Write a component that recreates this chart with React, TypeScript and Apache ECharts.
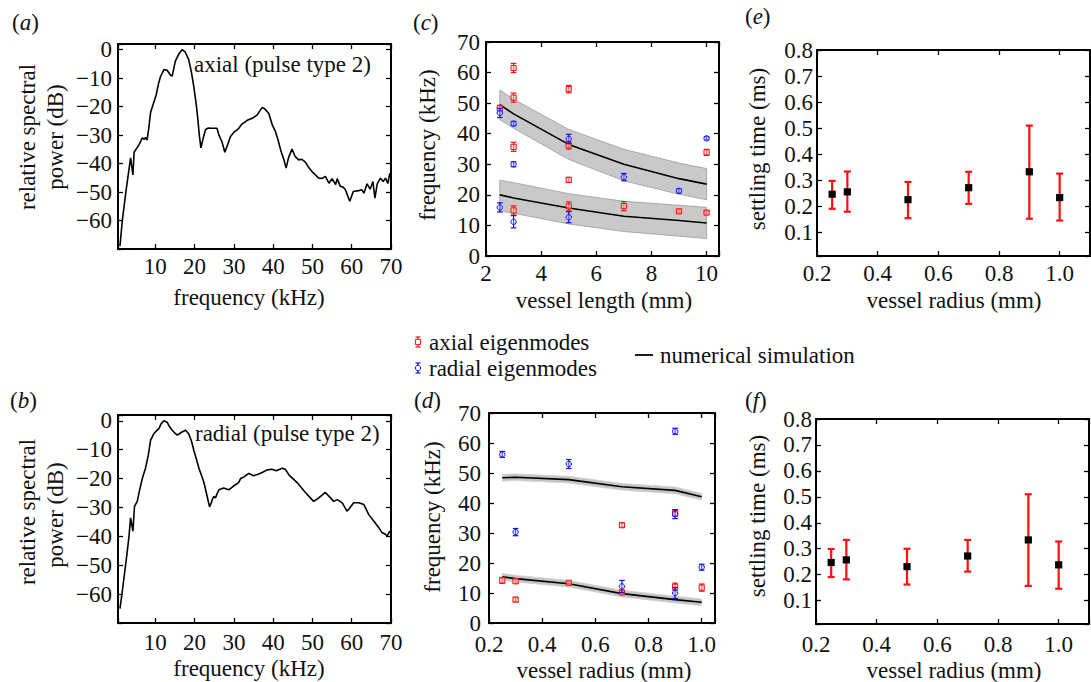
import { useEffect, useRef } from 'react';
import * as echarts from 'echarts';

const FONT = 'Liberation Serif, Times New Roman, serif';
const FS = 23;
const INK = '#111';

// (a) axial spectrum: [frequency kHz, relative power dB]
const axialSpectrum: number[][] = [
  [1.0, -69], [1.6, -60], [2.5, -50], [3.7, -38], [4.3, -44], [4.6, -36], [5.8, -33.5], [6.7, -31], [7.2, -31.5],
  [7.5, -30.8], [7.9, -31.8], [8.3, -28], [8.8, -22], [9.5, -19], [10.2, -16], [10.8, -12], [11.3, -9.5], [12.2, -7],
  [13, -7.2], [13.8, -8.8], [14.3, -9.3], [15.1, -4], [16, -1.5], [16.8, 0], [17.6, -0.8], [18.5, -3.5], [19.2, -8],
  [19.8, -13], [20.4, -19], [20.8, -24], [21.2, -30], [21.6, -34.5], [22.2, -31], [22.8, -28], [23.5, -27.5], [24.5, -27.6],
  [25.7, -27.6], [26.2, -30], [27, -32.5], [27.7, -36], [28.5, -33], [29.1, -30.6], [30, -29], [31.2, -27.7], [32, -26.2],
  [33.4, -24.8], [34.8, -24], [35.9, -23], [36.6, -21.5], [37.2, -20.3], [37.8, -20.7], [38.9, -22.4], [39.8, -26.5],
  [40.6, -28.8], [41.3, -32], [41.9, -35.2], [42.7, -38.5], [43.3, -41.6], [43.9, -38], [44.8, -34.9], [45.6, -37.5],
  [46.5, -38.7], [47.3, -38.5], [48.2, -39.5], [49.1, -41.5], [49.9, -42.8], [50.8, -44], [51.6, -45.1], [52.5, -45.2],
  [53.3, -44.5], [54.2, -46.9], [55, -45.3], [55.9, -47.4], [56.3, -45.3], [57.1, -48], [57.8, -48.2], [58.4, -49.2],
  [59.5, -53.2], [60.4, -49.8], [61.1, -49.6], [61.8, -49.5], [62.6, -49.2], [63.1, -50.4], [63.9, -47.1], [64.7, -49],
  [65.4, -46.3], [65.9, -52.1], [66.5, -47.1], [67.3, -45.1], [68, -46.3], [68.6, -45.1], [69.2, -47], [69.7, -43.4],
];

// (b) radial spectrum
const radialSpectrum: number[][] = [
  [1.0, -65], [1.5, -60], [2, -54.6], [2.7, -47], [3.3, -40], [3.7, -33.6], [4.3, -38.2], [4.7, -29.6], [5.4, -27.9],
  [6, -24], [6.7, -19.9], [7.5, -16.4], [8.2, -12], [8.8, -6.7], [9.6, -4.5], [10.3, -3.5], [10.9, -2.7], [11.5, -1],
  [12.2, 0], [13, -0.5], [13.6, -2], [14.3, -3.3], [15, -4.3], [15.6, -5], [16.2, -4.4], [16.8, -3.9], [17.7, -3.3],
  [18.5, -4.5], [19.2, -7], [19.8, -10.2], [20.5, -13.5], [21.1, -16.4], [21.7, -18.7], [22.3, -21], [22.8, -23.8],
  [23.2, -26.2], [23.8, -29.8], [24.2, -28.5], [24.5, -27.3], [24.9, -26.2], [25.3, -26.7], [25.8, -25], [26.2, -23.9],
  [27.4, -23.3], [28.7, -23.9], [30, -22.5], [31.2, -21.4], [31.7, -20], [32.5, -19.5], [33.8, -18.2], [35, -19],
  [36.2, -18.5], [37.2, -17.9], [38.5, -17], [39.7, -16.8], [40.8, -17.3], [42.3, -16.4], [43.1, -16.8], [44, -18.7],
  [46.1, -21.4], [48.2, -24.8], [50.3, -27.9], [51.6, -26.7], [53.3, -24.8], [54.6, -26.7], [55.4, -27.9], [56.3, -27.3],
  [57.6, -28.4], [58.8, -31.3], [59.5, -30.2], [60.5, -28.4], [61.8, -28.4], [63.1, -29], [64.3, -32.4], [65.6, -34.7],
  [66.9, -37], [67.7, -38.7], [68.6, -39.3], [69, -39.9], [69.7, -38.2],
];

// (c) vessel length sweep
const lengthMm = [2.5, 3, 5, 7, 9, 10];
const simLenHigh = [49.5, 46.5, 36.5, 30, 25.3, 23.5];
const simLenHighLo = [44.6, 41.8, 31.6, 24.6, 20.2, 18.4];
const simLenHighHi = [54.3, 51.3, 41.4, 34.9, 30.4, 28.6];
const simLenLow = [20, 19, 15.7, 13, 11.6, 10.8];
const simLenLowLo = [14.7, 14, 10.5, 8, 6.5, 5.7];
const simLenLowHi = [24.8, 24, 20.4, 17.9, 16.6, 15.9];
// [length, frequency, error]
const lenAxial: number[][] = [
  [2.5, 48.3, 1.0], [3, 61.5, 1.5], [3, 51.8, 1.5], [3, 35.7, 1.5], [3, 14.9, 1.5], [5, 54.6, 1.2], [5, 36.2, 1.2],
  [5, 24.9, 0.8], [5, 16.2, 1.5], [7, 16.3, 1.5], [9, 14.6, 0.5], [10, 33.9, 1.0], [10, 14.2, 0.5],
];
const lenRadial: number[][] = [
  [2.5, 46.8, 1.5], [2.5, 15.9, 1.5], [3, 43.3, 0.7], [3, 30, 0.8], [3, 11.2, 2], [5, 38.3, 1.5], [5, 12.7, 1.8],
  [7, 25.8, 1.2], [9, 21.3, 0.7], [10, 38.5, 0.5],
];

// (d) vessel radius sweep
const radiusMm = [0.25, 0.3, 0.5, 0.7, 0.9, 1.0];
const simRadHigh = [48.4, 48.6, 47.8, 45.4, 44.2, 42.1];
const simRadLow = [15.4, 14.8, 13.1, 9.8, 7.8, 6.9];
const simRadSpread = 1.1;
const radAxial: number[][] = [
  [0.25, 14.2, 1.0], [0.3, 13.9, 0.7], [0.3, 7.8, 0.7], [0.5, 13.4, 0.5], [0.7, 32.6, 0.7], [0.7, 10.2, 0.7],
  [0.9, 36.6, 1.0], [0.9, 12.1, 1.2], [1.0, 11.8, 1.2],
];
const radRadial: number[][] = [
  [0.25, 56.2, 1.0], [0.3, 30.3, 1.2], [0.5, 53.0, 1.5], [0.7, 12.2, 2.0], [0.9, 63.9, 1.0], [0.9, 36.3, 1.5],
  [0.9, 10.0, 1.8], [1.0, 18.6, 1.0],
];

// (e), (f) settling time: [radius, mean, low, high]
const settleE: number[][] = [
  [0.25, 0.247, 0.191, 0.298], [0.3, 0.256, 0.18, 0.334], [0.5, 0.226, 0.155, 0.294],
  [0.7, 0.272, 0.21, 0.333], [0.9, 0.333, 0.153, 0.51], [1.0, 0.234, 0.146, 0.326],
];
const settleF: number[][] = [
  [0.25, 0.247, 0.191, 0.299], [0.3, 0.257, 0.182, 0.334], [0.5, 0.231, 0.162, 0.3],
  [0.7, 0.272, 0.212, 0.334], [0.9, 0.334, 0.157, 0.51], [1.0, 0.238, 0.146, 0.328],
];

const RED = '#ff1010';
const BLUE = '#1010ff';

type AxisSpec = { min: number; max: number; interval?: number; splitNumber?: number; fmt: (v: number) => string; margin: number };

function makeAxes(g: number, xs: AxisSpec, ys: AxisSpec) {
  const line = { show: true, onZero: false, lineStyle: { color: '#000', width: 2 } };
  const tick = { show: true, inside: true, length: 5, lineStyle: { color: '#000', width: 1.3 } };
  const lbl = (s: AxisSpec) => ({
    show: true, formatter: s.fmt, fontFamily: FONT, fontSize: FS, color: INK, margin: s.margin,
    showMinLabel: true, showMaxLabel: true, hideOverlap: false,
  });
  const base = (s: AxisSpec) => {
    const o: any = { type: 'value', gridIndex: g, min: s.min, max: s.max, splitLine: { show: false }, axisLine: line, axisTick: tick };
    if (s.interval !== undefined) o.interval = s.interval;
    if (s.splitNumber !== undefined) o.splitNumber = s.splitNumber;
    return o;
  };
  return {
    x: [
      { ...base(xs), position: 'bottom', axisLabel: lbl(xs) },
      { ...base(xs), position: 'top', axisLabel: { show: false } },
    ],
    y: [
      { ...base(ys), position: 'left', axisLabel: lbl(ys) },
      { ...base(ys), position: 'right', axisLabel: { show: false } },
    ],
  };
}

const minus = (v: number) => String(v).replace('-', '\u2212');

function bandSeries(g: number, xs: number[], lo: number[], hi: number[], fill: string, stroke: string) {
  return {
    type: 'custom', xAxisIndex: 2 * g, yAxisIndex: 2 * g, silent: true, z: 1,
    data: xs.map((x, i) => [x, hi[i]]),
    renderItem: (params: any, api: any) => {
      if (params.dataIndex !== 0) return null;
      const top = xs.map((x, i) => api.coord([x, hi[i]]));
      const bot = xs.map((x, i) => api.coord([x, lo[i]])).reverse();
      return { type: 'polygon', shape: { points: top.concat(bot) }, style: { fill, stroke, lineWidth: 0.8 } };
    },
  };
}

function lineSeries(g: number, data: number[][], width = 1.6) {
  return {
    type: 'line', xAxisIndex: 2 * g, yAxisIndex: 2 * g, data, symbol: 'none', showSymbol: false, z: 3,
    lineStyle: { color: '#000', width }, silent: true,
  };
}

function errSeries(g: number, data: number[][], color: string, marker: 'sq' | 'circ' | 'fill') {
  return {
    type: 'custom', xAxisIndex: 2 * g, yAxisIndex: 2 * g, z: 4, silent: true, data,
    renderItem: (_p: any, api: any) => {
      const x = api.value(0), y = api.value(1), lo = api.value(2), hi = api.value(3);
      const c = api.coord([x, y]);
      const a = api.coord([x, lo]);
      const b = api.coord([x, hi]);
      const big = marker === 'fill';
      const lw = big ? 2.2 : 1.2;
      const cap = big ? 3.5 : 2.8;
      const st = { stroke: color, lineWidth: lw };
      const children: any[] = [
        { type: 'line', shape: { x1: c[0], y1: a[1], x2: c[0], y2: b[1] }, style: st },
        { type: 'line', shape: { x1: c[0] - cap, y1: a[1], x2: c[0] + cap, y2: a[1] }, style: st },
        { type: 'line', shape: { x1: c[0] - cap, y1: b[1], x2: c[0] + cap, y2: b[1] }, style: st },
      ];
      if (marker === 'sq') {
        children.push({ type: 'rect', shape: { x: c[0] - 2.6, y: c[1] - 2.6, width: 5.2, height: 5.2 }, style: { fill: 'rgba(255,200,200,0.5)', stroke: color, lineWidth: 1 } });
      } else if (marker === 'circ') {
        children.push({ type: 'circle', shape: { cx: c[0], cy: c[1], r: 2.7 }, style: { fill: 'rgba(200,200,255,0.4)', stroke: color, lineWidth: 1 } });
      } else {
        children.push({ type: 'rect', shape: { x: c[0] - 3.6, y: c[1] - 3.6, width: 7.2, height: 7.2 }, style: { fill: '#000' } });
      }
      return { type: 'group', children };
    },
  };
}

function T(text: string, x: number, y: number, opt: { rot?: number; align?: string; fs?: number } = {}) {
  return {
    type: 'text', x, y, rotation: opt.rot || 0, z: 10, silent: true,
    style: {
      text, fontFamily: FONT, fontSize: opt.fs || FS, fill: INK,
      align: opt.align || 'center', verticalAlign: 'middle',
      textAlign: opt.align || 'center', textVerticalAlign: 'middle',
    },
  };
}

function panelLabel(letter: string, x: number, y: number) {
  return {
    type: 'text', x, y, z: 10, silent: true,
    style: {
      text: `{n|(}{i|${letter}}{n|)}`, fontFamily: FONT, fontSize: FS, fill: INK,
      align: 'left', verticalAlign: 'middle', textAlign: 'left', textVerticalAlign: 'middle',
      rich: {
        n: { fontFamily: FONT, fontSize: FS, fill: INK, color: INK },
        i: { fontFamily: FONT, fontSize: FS, fontStyle: 'italic', fill: INK, color: INK },
      },
    },
  };
}

function buildOption() {
  const spX: AxisSpec = { min: 0.5, max: 70, fmt: (v) => (v < 5 ? '' : String(v)), margin: 6 };
  const spXb: AxisSpec = { ...spX, margin: 8 };
  const spY: AxisSpec = { min: -70, max: 2, interval: 10, fmt: (v) => (v > 0.5 || v < -65 ? '' : minus(v)), margin: 6 };
  const lenX: AxisSpec = { min: 2, max: 10.45, interval: 2, fmt: (v) => (Math.abs(v - Math.round(v)) > 1e-6 ? '' : String(v)), margin: 6 };
  const fqY: AxisSpec = { min: 0, max: 70, interval: 10, fmt: (v) => String(v), margin: 6 };
  const fqYd: AxisSpec = { ...fqY, margin: 8 };
  const radX: AxisSpec = { min: 0.2, max: 1.05, interval: 0.2, fmt: (v) => (v > 1.01 ? '' : v.toFixed(1)), margin: 10 };
  const stX: AxisSpec = { min: 0.2, max: 1.1, interval: 0.2, fmt: (v) => (v > 1.01 ? '' : v.toFixed(1)), margin: 6 };
  const stXf: AxisSpec = { ...stX, margin: 9 };
  const stY: AxisSpec = { min: 0.01, max: 0.8, splitNumber: 8, fmt: (v) => (v < 0.05 ? '' : v.toFixed(1)), margin: 4 };

  const axes = [
    makeAxes(0, spX, spY),
    makeAxes(1, spXb, spY),
    makeAxes(2, lenX, fqY),
    makeAxes(3, radX, fqYd),
    makeAxes(4, stX, stY),
    makeAxes(5, stXf, stY),
  ];
  const gridBase = { containLabel: false, outerBoundsMode: 'none', show: false };
  const grid = [
    { ...gridBase, left: 118, top: 44, width: 273, height: 205 },
    { ...gridBase, left: 118, top: 415, width: 273, height: 208 },
    { ...gridBase, left: 486, top: 42, width: 233, height: 214 },
    { ...gridBase, left: 489, top: 413, width: 226, height: 210 },
    { ...gridBase, left: 817, top: 50, width: 273, height: 206 },
    { ...gridBase, left: 816, top: 419, width: 273, height: 205 },
  ];

  const withErr = (d: number[][]) => d.map((p) => [p[0], p[1], p[1] - p[2], p[1] + p[2]]);
  const zip = (xs: number[], ys: number[]) => xs.map((x, i) => [x, ys[i]]);

  const series: any[] = [
    lineSeries(0, axialSpectrum),
    lineSeries(1, radialSpectrum),
    bandSeries(2, lengthMm, simLenHighLo, simLenHighHi, '#c9c9c9', '#9a9a9a'),
    bandSeries(2, lengthMm, simLenLowLo, simLenLowHi, '#c9c9c9', '#9a9a9a'),
    lineSeries(2, zip(lengthMm, simLenHigh)),
    lineSeries(2, zip(lengthMm, simLenLow)),
    errSeries(2, withErr(lenAxial), RED, 'sq'),
    errSeries(2, withErr(lenRadial), BLUE, 'circ'),
    bandSeries(3, radiusMm, simRadHigh.map((v) => v - simRadSpread), simRadHigh.map((v) => v + simRadSpread), '#c4c4c4', '#d0d0d0'),
    bandSeries(3, radiusMm, simRadLow.map((v) => v - simRadSpread), simRadLow.map((v) => v + simRadSpread), '#c4c4c4', '#d0d0d0'),
    lineSeries(3, zip(radiusMm, simRadHigh)),
    lineSeries(3, zip(radiusMm, simRadLow)),
    errSeries(3, withErr(radAxial), RED, 'sq'),
    errSeries(3, withErr(radRadial), BLUE, 'circ'),
    errSeries(4, settleE, RED, 'fill'),
    errSeries(5, settleF, RED, 'fill'),
  ];

  const R = Math.PI / 2;
  const graphic: any[] = [
    panelLabel('a', 12, 22),
    panelLabel('b', 10, 400),
    panelLabel('c', 413, 22),
    panelLabel('d', 414, 400),
    panelLabel('e', 745, 16),
    panelLabel('f', 745, 400),
    T('axial (pulse type 2)', 194, 64, { align: 'left' }),
    T('radial (pulse type 2)', 195, 433, { align: 'left' }),
    T('relative spectral', 27, 137, { rot: R }),
    T('power (dB)', 55, 137, { rot: R }),
    T('relative spectral', 27, 512, { rot: R }),
    T('power (dB)', 55, 515, { rot: R }),
    T('frequency (kHz)', 249, 297),
    T('frequency (kHz)', 249, 668),
    T('frequency (kHz)', 427, 145, { rot: R }),
    T('frequency (kHz)', 432, 517, { rot: R }),
    T('vessel length (mm)', 604, 300),
    T('vessel radius (mm)', 604, 670),
    T('settling time (ms)', 757, 149, { rot: R }),
    T('settling time (ms)', 757, 516, { rot: R }),
    T('vessel radius (mm)', 954, 300),
    T('vessel radius (mm)', 954, 670),
    // legend
    { type: 'line', silent: true, shape: { x1: 418, y1: 337, x2: 418, y2: 347 }, style: { stroke: RED, lineWidth: 1.2 } },
    { type: 'line', silent: true, shape: { x1: 415.5, y1: 337, x2: 420.5, y2: 337 }, style: { stroke: RED, lineWidth: 1.2 } },
    { type: 'line', silent: true, shape: { x1: 415.5, y1: 347, x2: 420.5, y2: 347 }, style: { stroke: RED, lineWidth: 1.2 } },
    { type: 'rect', silent: true, shape: { x: 415.4, y: 339.4, width: 5.2, height: 5.2 }, style: { fill: '#fff', stroke: RED, lineWidth: 1 } },
    T('axial eigenmodes', 429, 342, { align: 'left' }),
    { type: 'line', silent: true, shape: { x1: 418, y1: 363, x2: 418, y2: 373 }, style: { stroke: BLUE, lineWidth: 1.2 } },
    { type: 'line', silent: true, shape: { x1: 415.5, y1: 363, x2: 420.5, y2: 363 }, style: { stroke: BLUE, lineWidth: 1.2 } },
    { type: 'line', silent: true, shape: { x1: 415.5, y1: 373, x2: 420.5, y2: 373 }, style: { stroke: BLUE, lineWidth: 1.2 } },
    { type: 'circle', silent: true, shape: { cx: 418, cy: 368, r: 2.7 }, style: { fill: '#fff', stroke: BLUE, lineWidth: 1 } },
    T('radial eigenmodes', 429, 368, { align: 'left' }),
    { type: 'line', silent: true, shape: { x1: 635, y1: 355, x2: 653, y2: 355 }, style: { stroke: '#000', lineWidth: 1.8 } },
    T('numerical simulation', 660, 355, { align: 'left' }),
  ];

  return {
    animation: false,
    backgroundColor: '#fff',
    grid,
    xAxis: axes.flatMap((a) => a.x),
    yAxis: axes.flatMap((a) => a.y),
    series,
    graphic,
  };
}

export default function App() {
  const ref = useRef<HTMLDivElement>(null);
  useEffect(() => {
    const chart = echarts.init(ref.current!, null, { renderer: 'svg' });
    chart.setOption(buildOption() as any);
    return () => chart.dispose();
  }, []);
  return (
    <div
      ref={ref}
      style={{ position: 'fixed', left: 0, top: 0, width: 1091, height: 682, background: '#fff' }}
    />
  );
}
